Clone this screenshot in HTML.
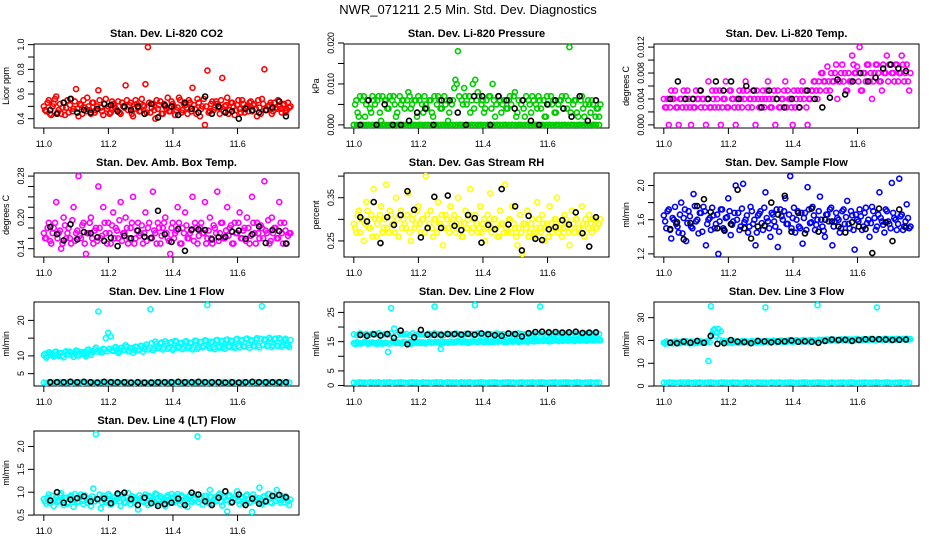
<!DOCTYPE html>
<html><head><meta charset="utf-8"><style>
body{margin:0;background:#fff}
svg{display:block;font-family:"Liberation Sans",sans-serif}
.pt{font-size:11px;font-weight:bold}
.tk{font-size:9px;letter-spacing:-0.2px}
</style></head><body>
<svg id="chart" width="936" height="540" viewBox="0 0 936 540">
<text x="468" y="14" text-anchor="middle" font-size="13">NWR_071211  2.5 Min. Std. Dev. Diagnostics</text>
</svg>
<script>
const xTicks=[11.0,11.2,11.4,11.6];
const xTickLabels=["11.0","11.2","11.4","11.6"];
const p1Red=[0.50,0.46,0.55,0.43,0.52,0.58,0.47,0.44,0.53,0.49,0.45,0.56,0.48,0.64,0.42,0.51,0.55,0.46,0.50,0.44,0.53,0.47,0.63,0.49,0.43,0.56,0.50,0.45,0.52,0.48,0.54,0.44,0.50,0.67,0.47,0.53,0.42,0.55,0.49,0.46,0.51,0.68,0.98,0.45,0.52,0.40,0.48,0.54,0.44,0.50,0.57,0.46,0.52,0.43,0.49,0.55,0.47,0.51,0.44,0.53,0.65,0.48,0.56,0.42,0.50,0.35,0.79,0.46,0.54,0.49,0.52,0.44,0.73,0.50,0.57,0.47,0.53,0.43,0.51,0.48,0.55,0.45,0.50,0.53,0.46,0.52,0.42,0.49,0.56,0.80,0.47,0.51,0.44,0.53,0.48,0.50,0.45,0.52,0.47,0.49];
const p1Red2=[0.47,0.53,0.44,0.50,0.56,0.45,0.52,0.49,0.43,0.55,0.51,0.46,0.54,0.48,0.52,0.44,0.49,0.57,0.47,0.53,0.45,0.50,0.55,0.46,0.52,0.48,0.44,0.54,0.50,0.47,0.45,0.53,0.49,0.55,0.51,0.44,0.48,0.52,0.46,0.56,0.50,0.45,0.53,0.49,0.47,0.55,0.51,0.44,0.52,0.48,0.46,0.54,0.50,0.47,0.57,0.45,0.52,0.49,0.55,0.46,0.51,0.44,0.53,0.48,0.56,0.50,0.45,0.52,0.47,0.54,0.49,0.55,0.46,0.51,0.44,0.53,0.50,0.47,0.55,0.45,0.52,0.49,0.46,0.54,0.51,0.48,0.55,0.44,0.52,0.47,0.50,0.53,0.46,0.49,0.55,0.48,0.51,0.45,0.53,0.50];
const p1Black=[0.47,0.44,0.53,0.56,0.45,0.47,0.45,0.48,0.52,0.51,0.46,0.50,0.47,0.50,0.44,0.52,0.41,0.51,0.50,0.43,0.53,0.48,0.45,0.58,0.44,0.50,0.45,0.46,0.40,0.48,0.47,0.45,0.47,0.49,0.54,0.42];
const p2Green=[0,0.006,0.002,0,0.007,0.005,0,0.003,0.006,0,0.007,0.001,0,0.006,0.004,0,0.007,0.002,0,0.005,0.006,0,0.008,0.004,0,0.006,0.007,0,0.003,0.005,0,0.006,0.002,0,0.007,0.004,0,0.005,0.001,0,0.006,0.011,0.018,0,0.005,0.007,0,0.003,0.010,0.011,0.008,0,0.006,0.004,0,0.007,0.010,0.002,0,0.006,0.005,0,0.004,0.007,0,0.008,0.003,0,0.006,0.002,0,0.005,0.007,0,0.004,0.006,0,0.002,0.007,0,0.005,0.003,0,0.006,0.007,0,0.004,0.019,0,0.006,0.003,0,0.007,0.002,0,0.005,0.006,0,0.004,0.002];
const p2Green2=[0.005,0.003,0.007,0.006,0.002,0.006,0.004,0.007,0.005,0.006,0.003,0.007,0.006,0.004,0.007,0.006,0.005,0.003,0.007,0.006,0.004,0.006,0.007,0.005,0.006,0.002,0.006,0.005,0.007,0.004,0.006,0.003,0.007,0.005,0.006,0.004,0.007,0.006,0.003,0.005,0.009,0.010,0.007,0.006,0.009,0.005,0.007,0.006,0.004,0.006,0.007,0.005,0.003,0.006,0.007,0.004,0.006,0.005,0.007,0.003,0.006,0.004,0.006,0.005,0.007,0.002,0.006,0.005,0.004,0.007,0.006,0.003,0.006,0.005,0.007,0.004,0.006,0.002,0.005,0.007,0.006,0.003,0.005,0.006,0.004,0.007,0.006,0.003,0.005,0.006,0.002,0.006,0.004,0.005,0.006,0.003,0.005,0.002,0.004,0.005];
const p2GreenZero=[0,0,0,0,0,0,0,0,0,0,0,0,0,0,0,0,0,0,0,0,0,0,0,0,0,0,0,0,0,0,0,0,0,0,0,0,0,0,0,0,0,0,0,0,0,0,0,0,0,0,0,0,0,0,0,0,0,0,0,0,0,0,0,0,0,0,0,0,0,0,0,0,0,0,0,0,0,0,0,0];
const p2Black=[0,0.006,0,0.005,0,0,0.001,0.003,0.004,0,0.006,0.006,0.003,0,0.007,0.007,0,0.007,0.006,0.004,0.006,0.001,0,0.005,0.006,0.004,0.002,0.007,0.001,0.006];
const p3Mag=[0.004,0.0027,0,0.0053,0.004,0.0027,0,0.004,0.0053,0.0027,0.004,0,0.0027,0.0053,0.004,0.0027,0.004,0,0.0067,0.0027,0.004,0.0053,0.0027,0,0.004,0.0067,0.0027,0.0053,0.004,0,0.0027,0.004,0.0053,0.0067,0.0027,0.004,0.0053,0,0.004,0.0027,0.0053,0.004,0.0067,0.0027,0.004,0,0.0053,0.0027,0.004,0.0067,0.0053,0.004,0,0.0027,0.0053,0.004,0.0067,0.0053,0,0.004,0.0053,0.0067,0.004,0.0053,0.008,0.0067,0.009,0.0053,0.0067,0.008,0.004,0.0067,0.0093,0.008,0.0053,0.0067,0.0107,0.008,0.009,0.012,0.0053,0.008,0.0093,0.0067,0.004,0.008,0.0093,0.0067,0.0053,0.008,0.0107,0.0093,0.008,0.0067,0.0093,0.008,0.0107,0.0067,0.0093,0.0053];
const p3Mag2=[0.0027,0.004,0.0027,0.004,0.0053,0.0027,0.004,0.0027,0.004,0.0053,0.0027,0.004,0.0027,0.004,0.0053,0.004,0.0027,0.004,0.0027,0.0053,0.0027,0.004,0.0053,0.0027,0.004,0.0027,0.0053,0.004,0.0027,0.004,0.0053,0.0027,0.004,0.0053,0.004,0.0027,0.004,0.0053,0.0027,0.004,0.0027,0.0053,0.004,0.0027,0.0053,0.004,0.0027,0.004,0.0053,0.0027,0.004,0.0027,0.0053,0.004,0.0027,0.0053,0.004,0.0027,0.004,0.0053,0.0067,0.0053,0.0067,0.008,0.0067,0.0053,0.0067,0.008,0.0067,0.0093,0.0067,0.008,0.0067,0.0053,0.008,0.0067,0.0093,0.008,0.0067,0.0053,0.008,0.0067,0.0093,0.008,0.0067,0.0093,0.008,0.0067,0.0093,0.008,0.0067,0.0093,0.008,0.0093,0.0067,0.008,0.0093,0.008,0.0067,0.008];
const p3Black=[0.004,0.0067,0.004,0.004,0.0053,0.004,0.0067,0.0053,0.0067,0.004,0.006,0.0053,0.0027,0.0053,0.004,0.0027,0.004,0.0027,0.0053,0.004,0.0027,0.0042,0.007,0.0047,0.0067,0.008,0.0067,0.0073,0.0087,0.0093,0.0087,0.0083];
const p4Mag=[0.17,0.16,0.19,0.15,0.18,0.23,0.17,0.14,0.20,0.16,0.18,0.15,0.22,0.17,0.28,0.16,0.19,0.13,0.17,0.20,0.15,0.18,0.26,0.16,0.22,0.17,0.19,0.15,0.21,0.18,0.16,0.23,0.17,0.20,0.15,0.18,0.24,0.16,0.19,0.17,0.15,0.21,0.18,0.16,0.25,0.17,0.19,0.15,0.18,0.20,0.16,0.13,0.19,0.17,0.22,0.15,0.18,0.21,0.16,0.17,0.24,0.19,0.15,0.18,0.17,0.23,0.16,0.20,0.15,0.18,0.25,0.17,0.19,0.16,0.22,0.18,0.15,0.19,0.17,0.21,0.16,0.18,0.20,0.15,0.24,0.17,0.19,0.16,0.18,0.27,0.17,0.15,0.20,0.18,0.16,0.23,0.17,0.19,0.15,0.17];
const p4Mag2=[0.16,0.18,0.155,0.17,0.19,0.16,0.175,0.15,0.185,0.17,0.16,0.195,0.155,0.175,0.165,0.185,0.15,0.17,0.19,0.16,0.175,0.155,0.18,0.165,0.19,0.15,0.17,0.185,0.16,0.175,0.195,0.155,0.17,0.18,0.16,0.19,0.15,0.175,0.165,0.185,0.17,0.155,0.19,0.16,0.175,0.15,0.18,0.165,0.19,0.17,0.155,0.18,0.16,0.175,0.19,0.15,0.17,0.185,0.16,0.175,0.155,0.18,0.165,0.19,0.17,0.15,0.175,0.16,0.185,0.17,0.155,0.19,0.16,0.175,0.165,0.185,0.15,0.17,0.19,0.16,0.175,0.155,0.18,0.165,0.19,0.15,0.17,0.185,0.16,0.175,0.195,0.155,0.17,0.18,0.16,0.19,0.15,0.175,0.165,0.17];
const p4Black=[0.182,0.168,0.156,0.187,0.158,0.172,0.170,0.162,0.155,0.161,0.145,0.165,0.160,0.175,0.163,0.161,0.213,0.168,0.153,0.178,0.136,0.177,0.177,0.176,0.158,0.162,0.163,0.173,0.175,0.159,0.168,0.183,0.151,0.176,0.174,0.150];
const p5Yel=[0.29,0.27,0.32,0.30,0.25,0.34,0.28,0.31,0.37,0.26,0.30,0.33,0.28,0.38,0.27,0.31,0.29,0.35,0.26,0.32,0.30,0.28,0.36,0.25,0.31,0.29,0.33,0.27,0.30,0.40,0.28,0.32,0.26,0.30,0.34,0.29,0.24,0.31,0.28,0.33,0.30,0.27,0.35,0.29,0.26,0.32,0.30,0.37,0.28,0.31,0.27,0.33,0.29,0.25,0.31,0.36,0.28,0.30,0.26,0.32,0.29,0.38,0.27,0.30,0.33,0.28,0.24,0.31,0.22,0.29,0.32,0.27,0.30,0.26,0.34,0.28,0.31,0.25,0.29,0.33,0.27,0.30,0.35,0.28,0.26,0.31,0.29,0.24,0.32,0.27,0.30,0.28,0.33,0.26,0.29,0.31,0.27,0.30,0.28,0.29];
const p5Yel2=[0.28,0.31,0.27,0.30,0.29,0.32,0.28,0.26,0.30,0.29,0.31,0.27,0.30,0.28,0.32,0.29,0.27,0.30,0.31,0.28,0.29,0.31,0.27,0.30,0.28,0.32,0.29,0.30,0.27,0.31,0.29,0.28,0.30,0.27,0.29,0.31,0.28,0.30,0.27,0.29,0.31,0.28,0.30,0.26,0.29,0.28,0.31,0.27,0.30,0.29,0.28,0.27,0.30,0.28,0.29,0.27,0.30,0.28,0.26,0.29,0.27,0.28,0.30,0.27,0.29,0.26,0.28,0.27,0.29,0.28,0.26,0.29,0.27,0.28,0.30,0.27,0.29,0.28,0.26,0.29,0.28,0.30,0.27,0.29,0.28,0.30,0.27,0.28,0.29,0.30,0.28,0.27,0.29,0.30,0.28,0.29,0.30,0.28,0.29,0.30];
const p5Black=[0.305,0.295,0.340,0.245,0.305,0.287,0.310,0.365,0.322,0.258,0.280,0.352,0.280,0.355,0.285,0.275,0.310,0.303,0.246,0.287,0.277,0.370,0.288,0.330,0.228,0.308,0.255,0.252,0.277,0.282,0.298,0.288,0.316,0.268,0.237,0.305];
const p6Blue=[1.65,1.50,1.72,1.38,1.60,1.55,1.45,1.80,1.62,1.35,1.70,1.52,1.90,1.58,1.44,1.68,1.75,1.30,1.60,1.48,1.65,1.55,1.20,1.72,1.50,1.62,1.85,1.42,1.58,2.00,1.68,1.52,2.02,1.60,1.45,1.75,1.55,1.30,1.65,1.70,1.48,1.92,1.58,1.40,1.66,1.52,1.28,1.72,1.60,1.85,1.55,2.11,1.62,1.45,1.70,1.50,1.32,1.68,1.98,1.56,1.75,1.48,1.60,1.87,1.52,1.40,1.66,1.72,1.30,1.58,1.62,1.45,1.70,1.55,1.82,1.50,1.65,1.25,1.60,1.72,1.48,1.68,1.56,1.40,1.75,1.62,1.52,1.92,1.58,1.45,1.70,1.55,2.03,1.62,1.48,2.08,1.66,1.52,1.78,1.50];
const p6Blue2=[1.58,1.70,1.48,1.62,1.75,1.52,1.66,1.44,1.72,1.56,1.64,1.50,1.76,1.60,1.68,1.46,1.70,1.55,1.62,1.74,1.50,1.66,1.58,1.72,1.47,1.63,1.70,1.54,1.68,1.60,1.48,1.73,1.57,1.65,1.52,1.70,1.60,1.45,1.67,1.56,1.74,1.62,1.50,1.68,1.58,1.72,1.46,1.64,1.70,1.55,1.66,1.50,1.74,1.60,1.52,1.68,1.62,1.48,1.72,1.57,1.65,1.54,1.70,1.60,1.47,1.66,1.58,1.74,1.52,1.68,1.60,1.50,1.72,1.63,1.55,1.70,1.48,1.66,1.58,1.64,1.52,1.74,1.60,1.56,1.70,1.48,1.66,1.62,1.54,1.72,1.58,1.50,1.68,1.60,1.55,1.64,1.48,1.58,1.62,1.52];
const p6Black=[1.49,1.57,1.37,1.56,1.76,1.84,1.69,1.50,1.48,1.55,1.95,1.50,1.38,1.52,1.53,1.80,1.66,1.88,1.46,1.68,1.44,1.73,1.46,1.60,1.58,1.52,1.45,1.57,1.52,1.49,1.21,1.73,1.57,1.35,1.72,1.51];
const p7Cyan=[10.2,9.5,11.0,10.5,9.8,11.2,10.0,10.8,9.6,11.3,10.4,10.9,9.7,11.5,10.1,11.0,10.6,9.9,11.8,10.3,11.2,12.3,22.5,11.0,12.0,15.0,16.5,15.5,11.4,12.5,10.8,12.2,11.6,13.0,11.3,12.1,10.9,12.6,11.5,12.8,11.2,12.4,11.8,23.1,11.6,14.0,12.1,13.5,11.8,14.1,12.0,13.6,11.7,14.2,12.3,13.4,11.9,14.0,12.2,13.7,11.8,14.3,12.0,13.9,12.4,14.4,24.3,12.1,13.8,11.9,14.5,12.3,14.2,12.0,14.6,12.5,14.1,12.2,14.8,12.4,14.5,12.6,14.9,12.3,14.3,12.7,15.0,12.4,24.0,14.6,12.8,15.1,12.5,14.7,12.9,15.0,12.6,14.4,13.0,12.5];
const p7Cyan2=[10.6,10.0,10.9,10.2,11.1,10.4,10.7,10.1,11.0,10.5,11.2,10.3,10.8,11.4,10.6,11.1,10.4,11.6,10.9,11.3,11.8,11.2,11.5,11.0,11.8,11.3,12.0,11.5,12.2,11.7,11.2,12.3,11.8,12.6,11.4,12.2,11.7,12.5,11.9,12.8,12.0,13.2,12.4,13.6,12.1,13.4,12.6,13.8,12.3,13.5,12.5,13.9,12.2,14.0,12.6,13.7,12.4,14.1,12.7,13.6,12.3,14.2,12.5,13.9,12.8,14.3,12.6,14.0,12.4,14.4,12.7,14.2,12.5,14.5,12.8,14.3,12.6,14.6,12.9,14.4,12.7,14.7,13.0,14.5,12.8,14.6,12.9,14.8,13.1,14.5,12.9,14.7,13.0,14.9,12.8,14.6,13.1,14.8,13.0,14.5];
const p7CyanLow=[2.5,2.4,2.6,2.5,2.5,2.4,2.6,2.5,2.5,2.6,2.4,2.5,2.5,2.6,2.4,2.5,2.5,2.6,2.5,2.4,2.5,2.6,2.5,2.5,2.4,2.6,2.5,2.5,2.4,2.5,2.6,2.5,2.5,2.4,2.6,2.5,2.5,2.5,2.4,2.6,2.5,2.5,2.6,2.4,2.5,2.5,2.6,2.5,2.4,2.5,2.5,2.6,2.5,2.4,2.5,2.5,2.6,2.5,2.5,2.4,2.5,2.6,2.4,2.5,2.5,2.6,2.4,2.5,2.6,2.5,2.4,2.5,2.5,2.6,2.4,2.5,2.5,2.6,2.5,2.4,2.5,2.6,2.5,2.4,2.5,2.5,2.6,2.4,2.5,2.5];
const p7Black=[2.6,2.6,2.6,2.7,2.6,2.7,2.6,2.5,2.7,2.6,2.6,2.6,2.5,2.6,2.5,2.5,2.6,2.6,2.6,2.7,2.6,2.6,2.7,2.6,2.6,2.6,2.5,2.6,2.5,2.6,2.7,2.6,2.6,2.6,2.6,2.6];
const p8CyanA=[17.5,17.2,17.8,17.4,17.6,17.3,17.7,17.5,17.9,17.2,17.6,17.4,17.8,19.5,17.3,17.7,17.5,17.6,17.2,17.8,17.4,17.6,17.5,17.3,17.7,17.4,17.8,17.5,17.6,17.3,17.7,17.5,17.4,17.8,17.6,17.3,17.7,17.5,17.6,17.4,17.8,17.5,17.3,17.7,17.6,17.4,17.8,17.5,17.6,17.3,17.7,17.5,17.4,17.8,17.6,17.5,17.7,17.4,17.6,17.5,17.8,17.6,17.4,17.7,17.5,17.6,17.8,17.5,17.7,17.6,17.4,17.8,17.6,17.7,17.5,17.8,17.6,17.7,17.9,17.6];
const p8CyanB=[14.5,14.8,14.3,14.6,14.9,14.4,14.7,14.5,14.8,14.3,14.6,11.5,26.5,15.2,14.7,14.5,14.9,14.4,14.8,14.6,14.5,14.9,14.7,14.4,14.8,14.6,27.0,14.9,12.5,14.6,14.8,15.0,14.7,14.9,15.1,14.8,15.0,14.6,15.0,27.5,14.9,15.1,14.8,15.2,15.0,14.9,15.1,15.3,15.0,14.8,15.2,15.0,15.3,14.9,15.1,15.2,15.0,15.4,15.1,15.3,27.0,15.2,15.4,15.1,15.3,15.5,15.2,15.4,15.6,15.3,15.5,15.2,15.6,15.4,15.5,15.3,15.7,15.4,15.6,15.5];
const p8CyanC=[14.2,14.6,14.4,14.9,14.3,14.7,14.5,14.2,14.8,14.4,14.6,14.3,14.9,14.5,14.7,14.4,14.8,14.6,14.3,14.9,14.7,14.5,14.8,14.6,15.0,14.7,14.9,14.6,15.1,14.8,14.6,15.0,14.8,15.2,14.9,15.1,14.7,15.0,15.2,14.9,15.3,15.0,15.2,14.8,15.1,15.3,15.0,15.4,15.2,15.0,15.3,15.1,15.5,15.2,15.4,15.1,15.6,15.3,15.5,15.2,15.4,15.6,15.3,15.7,15.5,15.4,15.6,15.3,15.7,15.5,15.8,15.6,15.4,15.7,15.5,15.8,15.6,15.9,15.7,15.5];
const p8CyanLow=[1.0,0.9,1.1,1.0,1.0,0.9,1.1,1.0,1.0,1.1,0.9,1.0,1.0,1.1,0.9,1.0,1.0,1.1,1.0,0.9,1.0,1.1,1.0,1.0,0.9,1.1,1.0,1.0,0.9,1.0,1.1,1.0,1.0,0.9,1.1,1.0,1.0,1.0,0.9,1.1,1.0,1.0,1.1,0.9,1.0,1.0,1.1,1.0,0.9,1.0,1.0,1.1,1.0,0.9,1.0,1.0,1.1,1.0,1.0,0.9,1.0,1.1,0.9,1.0,1.0,1.1,0.9,1.0,1.1,1.0,0.9,1.0,1.0,1.1,0.9,1.0,1.0,1.1,1.0,0.9,1.0,1.1,1.0,0.9,1.0,1.0,1.1,0.9,1.0,1.0];
const p8Black=[17.3,17.0,17.5,17.1,17.6,16.3,18.8,14.1,16.5,19.0,17.4,17.3,17.3,17.6,17.6,17.4,17.7,17.4,17.8,17.5,17.2,17.0,17.8,17.6,16.8,17.9,18.3,18.4,18.2,18.3,18.1,18.2,18.4,18.0,18.1,18.2];
const p9Cyan=[19.0,19.5,18.8,19.3,19.1,19.6,18.9,19.4,19.2,19.7,19.0,19.5,18.8,19.3,19.1,19.6,18.9,19.4,11.0,35.0,24.5,22.0,25.0,24.0,19.8,19.3,19.0,19.6,19.2,19.5,18.9,19.4,19.1,19.7,19.3,19.0,19.6,19.2,19.8,19.4,19.1,34.5,19.5,19.3,19.9,19.6,19.2,19.8,19.5,19.3,19.9,19.6,19.4,20.0,19.7,19.5,20.1,19.8,19.6,20.2,19.9,19.7,35.5,20.0,20.3,19.8,20.1,20.4,20.0,20.2,19.9,20.3,20.1,20.5,20.2,20.0,20.4,20.1,20.6,20.3,20.1,20.5,20.2,20.6,20.4,20.2,34.5,20.5,20.3,20.7,20.4,20.6,20.3,20.5,20.7,20.4,20.6,20.5,20.8,20.5];
const p9Cyan2=[18.6,19.2,19.0,18.7,19.4,19.1,18.8,19.5,19.0,19.3,18.7,19.4,19.1,18.9,19.5,19.2,19.0,19.6,19.3,23.0,25.0,23.5,20.2,19.5,19.1,19.7,19.4,18.9,19.6,19.3,19.0,19.7,19.2,19.5,19.1,19.8,19.4,19.2,19.7,19.5,19.3,19.8,19.6,19.4,19.9,19.6,19.4,20.0,19.7,19.5,20.1,19.8,19.6,20.1,19.8,19.6,20.2,19.9,19.7,20.2,20.0,19.8,20.3,20.0,19.9,20.4,20.1,19.9,20.4,20.2,20.0,20.5,20.2,20.0,20.5,20.3,20.1,20.6,20.3,20.1,20.6,20.4,20.2,20.7,20.4,20.2,20.7,20.5,20.3,20.8,20.5,20.3,20.7,20.4,20.6,20.3,20.7,20.5,20.4,20.6];
const p9CyanLow=[1.5,1.4,1.6,1.5,1.5,1.4,1.6,1.5,1.5,1.6,1.4,1.5,1.5,1.6,1.4,1.5,1.5,1.6,1.5,1.4,1.5,1.6,1.5,1.5,1.4,1.6,1.5,1.5,1.4,1.5,1.6,1.5,1.5,1.4,1.6,1.5,1.5,1.5,1.4,1.6,1.5,1.5,1.6,1.4,1.5,1.5,1.6,1.5,1.4,1.5,1.5,1.6,1.5,1.4,1.5,1.5,1.6,1.5,1.5,1.4,1.5,1.6,1.4,1.5,1.5,1.6,1.4,1.5,1.6,1.5,1.4,1.5,1.5,1.6,1.4,1.5,1.5,1.6,1.5,1.4,1.5,1.6,1.5,1.4,1.5,1.5,1.6,1.4,1.5,1.5];
const p9Black=[19.0,18.8,19.5,19.0,19.8,19.0,22.0,18.5,18.8,20.2,19.5,19.3,18.8,19.8,19.6,19.2,19.5,19.6,20.0,19.4,19.6,19.4,19.0,19.8,20.4,20.2,20.3,19.8,20.2,20.5,20.6,20.5,20.4,20.2,20.3,20.4];
const p10Cyan=[0.85,0.75,0.95,0.80,0.70,0.90,0.82,0.98,0.72,0.88,0.78,0.93,0.68,0.86,0.80,0.95,0.74,0.90,0.83,0.70,1.08,2.27,0.85,0.65,0.92,0.78,0.96,0.73,0.88,0.81,0.94,0.70,0.86,0.77,0.98,0.74,0.90,0.82,0.62,0.87,0.79,0.95,0.72,0.89,0.84,0.97,0.75,0.91,0.80,0.70,0.93,0.78,0.88,0.83,0.96,0.74,0.90,0.81,0.68,0.94,0.79,0.87,2.22,0.85,0.73,0.92,0.80,1.05,0.76,0.89,0.83,0.97,0.71,0.88,0.58,0.93,0.79,0.86,1.02,0.74,0.90,0.82,0.95,0.77,0.57,0.88,0.84,1.10,0.73,0.91,0.80,0.96,0.76,0.89,1.05,0.83,0.92,0.78,0.87,0.72];
const p10Cyan2=[0.80,0.88,0.76,0.92,0.84,0.79,0.94,0.82,0.87,0.75,0.90,0.83,0.96,0.78,0.89,0.81,0.93,0.77,0.86,0.91,0.80,0.84,0.95,0.78,0.87,0.82,0.92,0.76,0.89,0.85,0.80,0.94,0.79,0.88,0.83,0.91,0.77,0.86,0.93,0.81,0.88,0.76,0.92,0.84,0.79,0.95,0.82,0.87,0.75,0.90,0.83,0.96,0.78,0.89,0.81,0.93,0.77,0.86,0.91,0.80,0.84,0.95,0.78,0.87,0.82,0.92,0.76,0.89,0.85,0.80,0.94,0.79,0.88,0.83,0.91,0.77,0.86,0.93,0.81,0.88,0.76,0.92,0.84,0.79,0.95,0.82,0.87,0.75,0.90,0.83,0.96,0.78,0.89,0.81,0.93,0.77,0.86,0.91,0.80,0.84];
const p10Black=[0.82,1.00,0.77,0.84,0.87,0.91,0.80,0.85,0.86,0.76,0.97,0.99,0.85,0.72,0.88,0.76,0.70,0.74,0.77,0.86,0.72,0.99,0.95,0.80,0.72,0.88,1.02,0.78,0.95,0.72,0.86,0.75,0.80,0.92,0.94,0.89];

const panels=[
 {c:0,r:0,title:"Stan. Dev. Li-820 CO2",yl:"Licor ppm",ticks:[0.4,0.5,0.6,0.7,0.8,0.9,1.0],labels:[[0.4,"0.4"],[0.6,"0.6"],[0.8,"0.8"],[1.0,"1.0"]],series:[[p1Red,"#ff0000",0],[p1Red2,"#ff0000",2],[p1Black,"#000",1]]},
 {c:1,r:0,title:"Stan. Dev. Li-820 Pressure",yl:"kPa",ticks:[0,0.005,0.01,0.015,0.02],labels:[[0,"0.000"],[0.01,"0.010"],[0.02,"0.020"]],series:[[p2GreenZero,"#00cc00",0],[p2Green,"#00cc00",0],[p2Green2,"#00cc00",2],[p2Black,"#000",1]]},
 {c:2,r:0,title:"Stan. Dev. Li-820 Temp.",yl:"degrees C",ticks:[0,0.002,0.004,0.006,0.008,0.01,0.012],labels:[[0,"0.000"],[0.004,"0.004"],[0.008,"0.008"],[0.012,"0.012"]],series:[[p3Mag,"#ff00ff",0],[p3Mag2,"#ff00ff",2],[p3Black,"#000",1]]},
 {c:0,r:1,title:"Stan. Dev. Amb. Box Temp.",yl:"degrees C",ticks:[0.14,0.16,0.18,0.2,0.22,0.24,0.26,0.28],labels:[[0.14,"0.14"],[0.2,"0.20"],[0.28,"0.28"]],series:[[p4Mag,"#ff00ff",0],[p4Mag2,"#ff00ff",2],[p4Black,"#000",1]]},
 {c:1,r:1,title:"Stan. Dev. Gas Stream RH",yl:"percent",ticks:[0.25,0.3,0.35,0.4],labels:[[0.25,"0.25"],[0.35,"0.35"]],series:[[p5Yel,"#ffff00",0],[p5Yel2,"#ffff00",2],[p5Black,"#000",1]]},
 {c:2,r:1,title:"Stan. Dev. Sample Flow",yl:"ml/min",ticks:[1.2,1.4,1.6,1.8,2.0],labels:[[1.2,"1.2"],[1.6,"1.6"],[2.0,"2.0"]],series:[[p6Blue,"#0000ff",0],[p6Blue2,"#0000ff",2],[p6Black,"#000",1]]},
 {c:0,r:2,title:"Stan. Dev. Line 1 Flow",yl:"ml/min",ticks:[5,10,15,20],labels:[[5,"5"],[10,"10"],[20,"20"]],series:[[p7CyanLow,"#00ffff",0],[p7Cyan,"#00ffff",0],[p7Cyan2,"#00ffff",2],[p7Black,"#000",1]]},
 {c:1,r:2,title:"Stan. Dev. Line 2 Flow",yl:"ml/min",ticks:[0,5,10,15,20,25],labels:[[0,"0"],[5,"5"],[15,"15"],[25,"25"]],series:[[p8CyanLow,"#00ffff",0],[p8CyanB,"#00ffff",0],[p8CyanC,"#00ffff",2],[p8CyanA,"#00ffff",0],[p8Black,"#000",1]]},
 {c:2,r:2,title:"Stan. Dev. Line 3 Flow",yl:"ml/min",ticks:[0,10,20,30],labels:[[0,"0"],[10,"10"],[20,"20"],[30,"30"]],series:[[p9CyanLow,"#00ffff",0],[p9Cyan,"#00ffff",0],[p9Cyan2,"#00ffff",2],[p9Black,"#000",1]]},
 {c:0,r:3,title:"Stan. Dev. Line 4 (LT) Flow",yl:"ml/min",ticks:[0.5,1.0,1.5,2.0],labels:[[0.5,"0.5"],[1.0,"1.0"],[1.5,"1.5"],[2.0,"2.0"]],series:[[p10Cyan,"#00ffff",0],[p10Cyan2,"#00ffff",2],[p10Black,"#000",1]]}
];
const xRanges=[[11.0,11.76],[11.02,11.75],[11.004,11.764]];
const NS="http://www.w3.org/2000/svg";
const svg=document.getElementById('chart');
function mk(tag,attrs,parent){const e=document.createElementNS(NS,tag);for(const k in attrs)e.setAttribute(k,attrs[k]);(parent||svg).appendChild(e);return e;}
panels.forEach((p,pi)=>{
 const L=34+310*p.c,R=L+265,T=44+129*p.r,B=T+84;
 const g=mk('g',{});
 
 
 let mn=Infinity,mx=-Infinity;p.series.forEach(s=>s[0].forEach(v=>{if(v<mn)mn=v;if(v>mx)mx=v;}));
 const pad=(mx-mn)*0.04,y0=mn-pad,y1=mx+pad;
 const xs=v=>L+(v-10.9696)/(11.7904-10.9696)*(R-L);
 const ys=v=>B-(v-y0)/(y1-y0)*(B-T);
 const t=mk('text',{x:(L+R)/2,y:T-7,'text-anchor':'middle',class:'pt'},g);t.textContent=p.title;
 
 const box=mk('rect',{x:L,y:T,width:R-L,height:B-T,fill:'none',stroke:'#000','stroke-width':1},g);
 
 xTicks.forEach((v,i)=>{const x=xs(v);mk('line',{x1:x,x2:x,y1:B,y2:B+6,stroke:'#000'},g);
  const tl=mk('text',{x:x,y:B+19,'text-anchor':'middle',class:'tk'},g);tl.textContent=xTickLabels[i];
  });
 p.ticks.forEach(v=>{const y=ys(v);mk('line',{x1:L-6,x2:L,y1:y,y2:y,stroke:'#000'},g);});
 p.labels.forEach(l=>{const y=ys(l[0]);const tl=mk('text',{x:L-10,y:y,'text-anchor':'middle',class:'tk',transform:`rotate(-90 ${L-10} ${y})`},g);tl.textContent=l[1];
  });
 const yl=mk('text',{x:L-25,y:(T+B)/2,'text-anchor':'middle',class:'tk',transform:`rotate(-90 ${L-25} ${(T+B)/2})`},g);yl.textContent=p.yl;
 
 p.series.forEach(s=>{const vals=s[0],n=vals.length,xa=xRanges[s[2]][0],xb=xRanges[s[2]][1];
  const sg=mk('g',{fill:'none',stroke:s[1],'stroke-width':1.6},g);
  
  vals.forEach((v,i)=>{const xv=xa+(xb-xa)*i/(n-1);const c=mk('circle',{cx:xs(xv),cy:ys(v),r:2.5},sg);
   });});
});
</script>
</body></html>
